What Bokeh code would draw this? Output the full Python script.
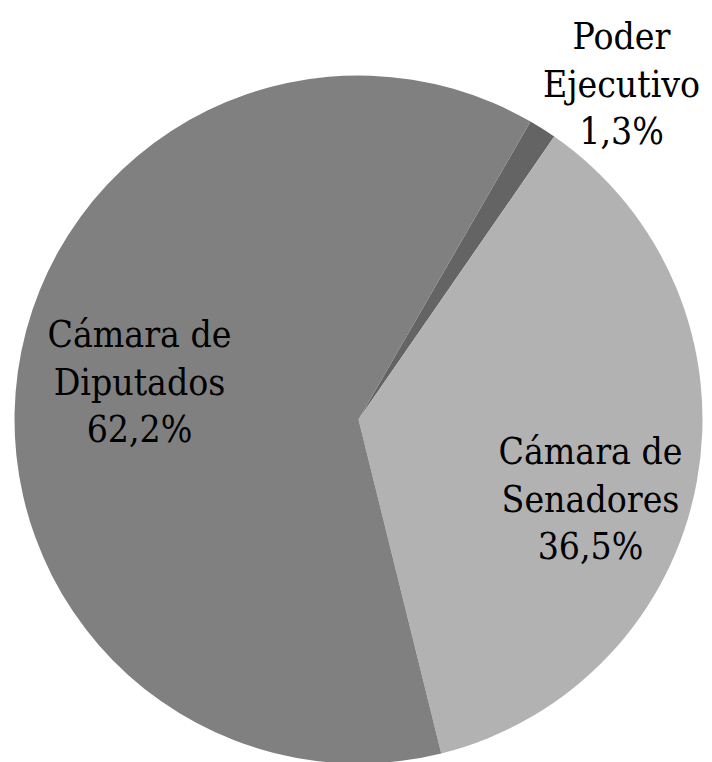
from bokeh.plotting import figure
from bokeh.models import Range1d, Label
from bokeh.embed import file_html
from bokeh.resources import INLINE
import math

# ---- data ----
categories = ["Poder Ejecutivo", "Cámara de Senadores", "Cámara de Diputados"]
label_lines = [["Poder", "Ejecutivo"], ["Cámara de", "Senadores"], ["Cámara de", "Diputados"]]
shares = [1.3, 36.5, 62.2]
colors = ["#646464", "#b2b2b2", "#808080"]

# ---- layout (reference pixel coords, y measured downwards) ----
W, H = 712, 762
cx_ref, cy_ref, R = 358, 419, 344
first_angle = 30.0  # degrees clockwise from 12 o'clock
label_pos = [(621, 36), (590, 451), (139, 334)]  # centre x, first baseline y
line_gap = 47.5
FONT = "DejaVu Serif Condensed"
FONT_SIZE = "37px"

p = figure(width=W, height=H, output_backend="svg", toolbar_location=None,
           x_range=Range1d(0, W), y_range=Range1d(0, H),
           min_border=0, match_aspect=False)
p.axis.visible = False
p.grid.visible = False
p.outline_line_color = None
p.background_fill_color = "white"
p.border_fill_color = "white"

def to_y(yref):
    return H - yref

total = sum(shares)
cum = first_angle
starts, ends = [], []
for s in shares:
    a0 = cum
    a1 = cum + s / total * 360.0
    starts.append(math.radians(90 - a0))
    ends.append(math.radians(90 - a1))
    cum = a1

p.wedge(x=[cx_ref] * 3, y=[to_y(cy_ref)] * 3, radius=R,
        start_angle=starts, end_angle=ends, direction="clock",
        fill_color=colors, line_color=None)

for lines, sh, (lx, ly) in zip(label_lines, shares, label_pos):
    full = lines + [("%.1f" % sh).replace(".", ",") + "%"]
    for i, t in enumerate(full):
        p.add_layout(Label(x=lx, y=to_y(ly + i * line_gap), text=t,
                           text_font=FONT, text_font_size=FONT_SIZE,
                           text_color="black", text_align="center",
                           text_baseline="alphabetic"))

open("out.html", "w").write(file_html(p, INLINE))
